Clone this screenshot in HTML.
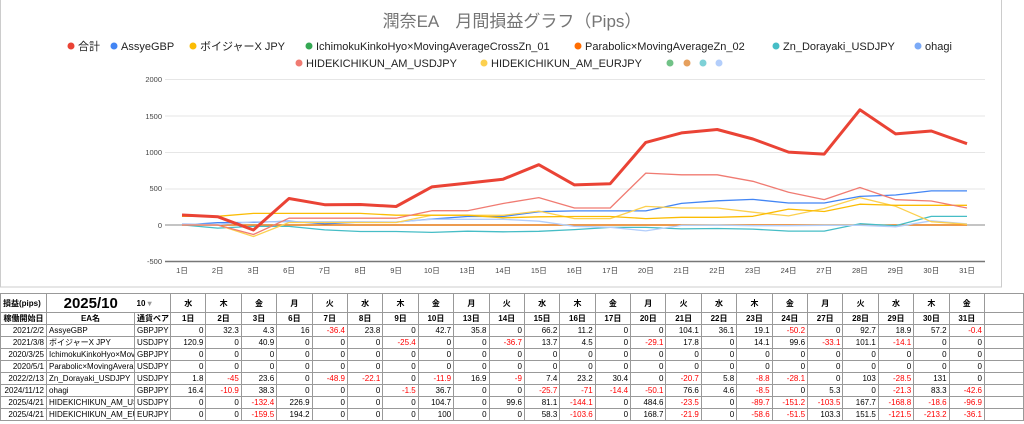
<!DOCTYPE html>
<html><head><meta charset="utf-8"><style>
body{margin:0;width:1024px;height:424px;overflow:hidden;background:#fff;font-family:"Liberation Sans","Noto Sans CJK JP",sans-serif;}
#chart{position:absolute;left:0;top:0;}
table{position:absolute;left:0;top:293px;width:1024px;border-collapse:collapse;table-layout:fixed;font-size:8px;}
td{border:1px solid #999;padding:0 2px;height:11px;line-height:11px;white-space:nowrap;overflow:hidden;text-align:right;}
.h td{font-weight:bold;text-align:center;}
.n{color:#f00}
</style></head><body>
<svg id="chart" width="1024" height="290">
<rect x="0.5" y="-1" width="1001" height="288" fill="none" stroke="#ccc"/>
<text x="512" y="27" text-anchor="middle" font-size="17" fill="#757575">潤奈EA　月間損益グラフ（Pips）</text>
<g font-size="11" fill="#222">
<circle cx="71" cy="46" r="3.5" fill="#ea4335"/><text x="78" y="50">合計</text>
<circle cx="114" cy="46" r="3.5" fill="#4285f4"/><text x="121" y="50">AssyeGBP</text>
<circle cx="193" cy="46" r="3.5" fill="#fbbc04"/><text x="200" y="50">ボイジャーX JPY</text>
<circle cx="309" cy="46" r="3.5" fill="#34a853"/><text x="316" y="50">IchimokuKinkoHyo×MovingAverageCrossZn_01</text>
<circle cx="578" cy="46" r="3.5" fill="#ff6d01"/><text x="585" y="50">Parabolic×MovingAverageZn_02</text>
<circle cx="776" cy="46" r="3.5" fill="#46bdc6"/><text x="783" y="50">Zn_Dorayaki_USDJPY</text>
<circle cx="918" cy="46" r="3.5" fill="#7baaf7"/><text x="925" y="50">ohagi</text>
<circle cx="299" cy="63" r="3.5" fill="#f07b72"/><text x="306" y="67">HIDEKICHIKUN_AM_USDJPY</text>
<circle cx="484" cy="63" r="3.5" fill="#fcd04f"/><text x="491" y="67">HIDEKICHIKUN_AM_EURJPY</text>
<circle cx="670" cy="63" r="3.5" fill="#71c287"/><circle cx="687" cy="63" r="3.5" fill="#e6a05d"/><circle cx="703" cy="63" r="3.5" fill="#7ed1d7"/><circle cx="719" cy="63" r="3.5" fill="#b3cefb"/>
</g>
<g stroke="#e6e6e6" stroke-width="1">
<line x1="165" x2="985" y1="79.5" y2="79.5"/><line x1="165" x2="985" y1="116" y2="116"/><line x1="165" x2="985" y1="152.5" y2="152.5"/><line x1="165" x2="985" y1="189" y2="189"/>
</g>
<line x1="165" x2="985" y1="225" y2="225" stroke="#888"/>
<line x1="165" x2="985" y1="261.5" y2="261.5" stroke="#777" stroke-width="1.5"/>
<g font-size="7.5" fill="#444" text-anchor="end">
<text x="162" y="82">2000</text><text x="162" y="119">1500</text><text x="162" y="155">1000</text><text x="162" y="191">500</text><text x="162" y="228">0</text><text x="162" y="264">-500</text>
</g>
<g font-size="7.5" fill="#444" text-anchor="middle">
<text x="182" y="273">1日</text><text x="217.7" y="273">2日</text><text x="253.4" y="273">3日</text><text x="289" y="273">6日</text><text x="324.7" y="273">7日</text><text x="360.4" y="273">8日</text><text x="396.1" y="273">9日</text><text x="431.8" y="273">10日</text><text x="467.4" y="273">13日</text><text x="503.1" y="273">14日</text><text x="538.8" y="273">15日</text><text x="574.5" y="273">16日</text><text x="610.2" y="273">17日</text><text x="645.8" y="273">20日</text><text x="681.5" y="273">21日</text><text x="717.2" y="273">22日</text><text x="752.9" y="273">23日</text><text x="788.6" y="273">24日</text><text x="824.2" y="273">27日</text><text x="859.9" y="273">28日</text><text x="895.6" y="273">29日</text><text x="931.3" y="273">30日</text><text x="967" y="273">31日</text>
</g>
<g fill="none" stroke-linejoin="round" transform="translate(0,1)">
<polyline stroke="#4285f4" stroke-width="1.3" points="182,224 217.7,221.7 253.4,221.4 289,220.2 324.7,222.8 360.4,221.1 396.1,221.1 431.8,218 467.4,215.5 503.1,215.5 538.8,210.7 574.5,209.9 610.2,209.9 645.8,209.9 681.5,202.4 717.2,199.8 752.9,198.4 788.6,202 824.2,202 859.9,195.4 895.6,194 931.3,189.9 967,189.9"/>
<polyline stroke="#34a853" stroke-width="1.3" points="182,224 967,224"/>
<polyline stroke="#ff6d01" stroke-width="1.3" points="182,224 967,224"/>
<polyline stroke="#46bdc6" stroke-width="1.3" points="182,223.9 217.7,227.1 253.4,225.4 289,225.4 324.7,228.9 360.4,230.5 396.1,230.5 431.8,231.4 467.4,230.2 503.1,230.8 538.8,230.3 574.5,228.6 610.2,226.4 645.8,226.4 681.5,227.9 717.2,227.5 752.9,228.1 788.6,230.1 824.2,230.1 859.9,222.7 895.6,224.8 931.3,215.4 967,215.4"/>
<polyline stroke="#b3cefb" stroke-width="1.3" points="182,222.8 217.7,223.6 253.4,220.8 289,220.8 324.7,220.8 360.4,220.8 396.1,221 431.8,218.3 467.4,218.3 503.1,218.3 538.8,220.2 574.5,225.3 610.2,226.3 645.8,229.9 681.5,224.4 717.2,224.1 752.9,224.7 788.6,224.7 824.2,224.3 859.9,224.3 895.6,225.8 931.3,219.8 967,222.9"/>
<polyline stroke="#fcd04f" stroke-width="1.3" points="182,224 217.7,224 253.4,235.5 289,221.5 324.7,221.5 360.4,221.5 396.1,221.5 431.8,214.3 467.4,214.3 503.1,214.3 538.8,210.1 574.5,217.6 610.2,217.6 645.8,205.4 681.5,207 717.2,207 752.9,211.2 788.6,214.9 824.2,207.5 859.9,196.6 895.6,205.3 931.3,220.7 967,223.3"/>
<polyline stroke="#fbbc04" stroke-width="1.3" points="182,215.3 217.7,215.3 253.4,212.4 289,212.4 324.7,212.4 360.4,212.4 396.1,214.2 431.8,214.2 467.4,214.2 503.1,216.8 538.8,215.8 574.5,215.5 610.2,215.5 645.8,217.6 681.5,216.3 717.2,216.3 752.9,215.3 788.6,208.1 824.2,210.5 859.9,203.2 895.6,204.3 931.3,204.3 967,204.3"/>
<polyline stroke="#f07b72" stroke-width="1.3" points="182,224 217.7,224 253.4,233.5 289,217.2 324.7,217.2 360.4,217.2 396.1,217.2 431.8,209.7 467.4,209.7 503.1,202.5 538.8,196.6 574.5,207 610.2,207 645.8,172.1 681.5,173.8 717.2,173.8 752.9,180.3 788.6,191.2 824.2,198.6 859.9,186.5 895.6,198.7 931.3,200 967,207"/>
<polyline stroke="#ea4335" stroke-width="3" points="182,214 217.7,215.7 253.4,229 289,197.5 324.7,203.7 360.4,203.5 396.1,205.5 431.8,185.9 467.4,182.1 503.1,178.2 538.8,163.7 574.5,183.9 610.2,182.7 645.8,141.4 681.5,131.9 717.2,128.5 752.9,138 788.6,151.1 824.2,153.1 859.9,108.8 895.6,132.9 931.3,130 967,142.7"/>
</g>
</svg>
<table>
<colgroup><col style="width:46px"><col style="width:88px"><col style="width:36px"><col span="23" style="width:35.4px"><col style="width:39px"></colgroup>
<tr class="h" style="height:19px"><td style="text-align:left;height:18px">損益(pips)</td><td style="font-size:15px;border-right:none">2025/10</td><td style="text-align:left;border-left:none">10 <span style="color:#999">▾</span></td><td>水</td><td>木</td><td>金</td><td>月</td><td>火</td><td>水</td><td>木</td><td>金</td><td>月</td><td>火</td><td>水</td><td>木</td><td>金</td><td>月</td><td>火</td><td>水</td><td>木</td><td>金</td><td>月</td><td>火</td><td>水</td><td>木</td><td>金</td><td></td></tr>
<tr class="h"><td>稼働開始日</td><td>EA名</td><td>通貨ペア</td><td>1日</td><td>2日</td><td>3日</td><td>6日</td><td>7日</td><td>8日</td><td>9日</td><td>10日</td><td>13日</td><td>14日</td><td>15日</td><td>16日</td><td>17日</td><td>20日</td><td>21日</td><td>22日</td><td>23日</td><td>24日</td><td>27日</td><td>28日</td><td>29日</td><td>30日</td><td>31日</td><td></td></tr>
<tr><td>2021/2/2</td><td style="text-align:left">AssyeGBP</td><td style="text-align:left">GBPJPY</td><td>0</td><td>32.3</td><td>4.3</td><td>16</td><td class="n">-36.4</td><td>23.8</td><td>0</td><td>42.7</td><td>35.8</td><td>0</td><td>66.2</td><td>11.2</td><td>0</td><td>0</td><td>104.1</td><td>36.1</td><td>19.1</td><td class="n">-50.2</td><td>0</td><td>92.7</td><td>18.9</td><td>57.2</td><td class="n">-0.4</td><td></td></tr>
<tr><td>2021/3/8</td><td style="text-align:left">ボイジャーX JPY</td><td style="text-align:left">USDJPY</td><td>120.9</td><td>0</td><td>40.9</td><td>0</td><td>0</td><td>0</td><td class="n">-25.4</td><td>0</td><td>0</td><td class="n">-36.7</td><td>13.7</td><td>4.5</td><td>0</td><td class="n">-29.1</td><td>17.8</td><td>0</td><td>14.1</td><td>99.6</td><td class="n">-33.1</td><td>101.1</td><td class="n">-14.1</td><td>0</td><td>0</td><td></td></tr>
<tr><td>2020/3/25</td><td style="text-align:left">IchimokuKinkoHyo×MovingAverageCrossZn_01</td><td style="text-align:left">GBPJPY</td><td>0</td><td>0</td><td>0</td><td>0</td><td>0</td><td>0</td><td>0</td><td>0</td><td>0</td><td>0</td><td>0</td><td>0</td><td>0</td><td>0</td><td>0</td><td>0</td><td>0</td><td>0</td><td>0</td><td>0</td><td>0</td><td>0</td><td>0</td><td></td></tr>
<tr><td>2020/5/1</td><td style="text-align:left">Parabolic×MovingAverageZn_02</td><td style="text-align:left">USDJPY</td><td>0</td><td>0</td><td>0</td><td>0</td><td>0</td><td>0</td><td>0</td><td>0</td><td>0</td><td>0</td><td>0</td><td>0</td><td>0</td><td>0</td><td>0</td><td>0</td><td>0</td><td>0</td><td>0</td><td>0</td><td>0</td><td>0</td><td>0</td><td></td></tr>
<tr><td>2022/2/13</td><td style="text-align:left">Zn_Dorayaki_USDJPY</td><td style="text-align:left">USDJPY</td><td>1.8</td><td class="n">-45</td><td>23.6</td><td>0</td><td class="n">-48.9</td><td class="n">-22.1</td><td>0</td><td class="n">-11.9</td><td>16.9</td><td class="n">-9</td><td>7.4</td><td>23.2</td><td>30.4</td><td>0</td><td class="n">-20.7</td><td>5.8</td><td class="n">-8.8</td><td class="n">-28.1</td><td>0</td><td>103</td><td class="n">-28.5</td><td>131</td><td>0</td><td></td></tr>
<tr><td>2024/11/12</td><td style="text-align:left">ohagi</td><td style="text-align:left">GBPJPY</td><td>16.4</td><td class="n">-10.9</td><td>38.3</td><td>0</td><td>0</td><td>0</td><td class="n">-1.5</td><td>36.7</td><td>0</td><td>0</td><td class="n">-25.7</td><td class="n">-71</td><td class="n">-14.4</td><td class="n">-50.1</td><td>76.6</td><td>4.6</td><td class="n">-8.5</td><td>0</td><td>5.3</td><td>0</td><td class="n">-21.3</td><td>83.3</td><td class="n">-42.6</td><td></td></tr>
<tr><td>2025/4/21</td><td style="text-align:left">HIDEKICHIKUN_AM_USDJPY</td><td style="text-align:left">USDJPY</td><td>0</td><td>0</td><td class="n">-132.4</td><td>226.9</td><td>0</td><td>0</td><td>0</td><td>104.7</td><td>0</td><td>99.6</td><td>81.1</td><td class="n">-144.1</td><td>0</td><td>484.6</td><td class="n">-23.5</td><td>0</td><td class="n">-89.7</td><td class="n">-151.2</td><td class="n">-103.5</td><td>167.7</td><td class="n">-168.8</td><td class="n">-18.6</td><td class="n">-96.9</td><td></td></tr>
<tr><td>2025/4/21</td><td style="text-align:left">HIDEKICHIKUN_AM_EURJPY</td><td style="text-align:left">EURJPY</td><td>0</td><td>0</td><td class="n">-159.5</td><td>194.2</td><td>0</td><td>0</td><td>0</td><td>100</td><td>0</td><td>0</td><td>58.3</td><td class="n">-103.6</td><td>0</td><td>168.7</td><td class="n">-21.9</td><td>0</td><td class="n">-58.6</td><td class="n">-51.5</td><td>103.3</td><td>151.5</td><td class="n">-121.5</td><td class="n">-213.2</td><td class="n">-36.1</td><td></td></tr>
</table>
</body></html>
